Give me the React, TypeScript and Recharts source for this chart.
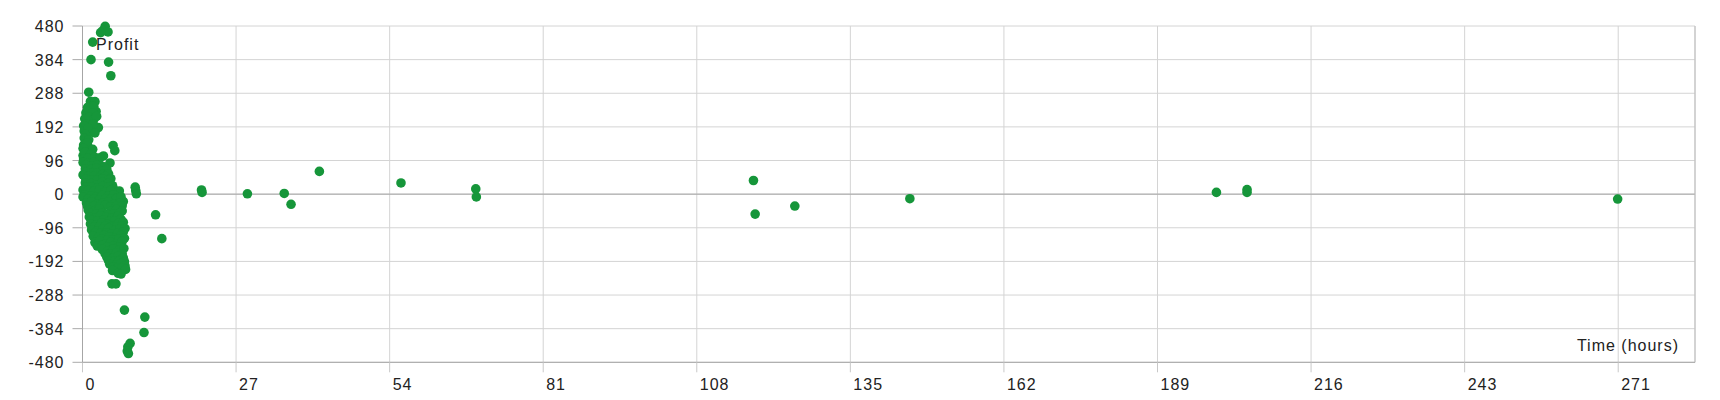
import { CartesianGrid, Label, ReferenceLine, Scatter, ScatterChart, XAxis, YAxis } from "recharts";

// [hours, profit] pairs
const earlyTrades: [number, number][] = [
  [4.0, 479], [3.6, 467], [4.5, 463], [3.2, 461], [1.8, 434], [1.5, 384], [4.6, 377], [5.0, 338],
  [1.1, 291], [1.4, 265], [2.2, 264], [1.6, 250], [0.6, 232], [1.3, 238], [2.4, 236],
  [0.9, 248], [2.0, 250], [1.8, 232], [0.9, 210],
  [0.4, 215], [1.2, 220], [2.0, 214], [2.5, 222], [0.7, 200], [1.5, 195], [2.8, 190],
  [0.2, 195], [1.9, 200], [0.3, 180], [1.6, 178],
  [1.0, 188], [2.2, 175], [0.5, 170], [0.3, 160], [1.1, 155], [0.2, 140], [1.0, 135],
  [0.8, 145], [0.1, 130], [0.1, 110],
  [1.8, 128], [0.4, 120], [1.4, 112], [0.2, 100], [0.9, 102], [2.2, 105], [5.4, 139],
  [5.7, 124], [3.7, 109], [3.1, 104], [4.85, 89],
  [0.1, 90], [1.0, 88], [2.0, 90], [3.0, 84],
  [0.6, 82], [1.6, 80], [2.6, 83], [3.8, 78],
  [0.5, 72], [1.5, 70], [2.5, 74], [3.5, 66], [4.3, 70],
  [0.6, 62], [1.6, 60], [2.6, 60], [3.6, 56], [4.6, 58],
  [0.1, 55], [1.0, 50], [2.0, 52], [3.0, 47], [4.0, 50], [5.0, 44],
  [0.6, 42], [1.6, 40], [2.6, 40], [3.6, 44], [4.6, 40],
  [0.5, 32], [1.5, 30], [2.5, 27], [3.5, 34], [4.5, 30], [5.3, 24],
  [0.6, 20], [1.6, 20], [2.6, 18], [3.6, 22], [4.6, 20], [5.5, 14],
  [0.1, 12], [1.0, 10], [2.0, 8], [3.0, 12], [4.0, 7], [5.0, 10], [6.5, 9], [6.3, -1],
  [0.3, -2], [1.5, -5], [2.5, -8], [3.5, -4], [4.5, -6], [5.5, -2], [7.2, -21],
  [0.1, -8], [1.0, -14], [2.0, -14], [3.0, -16], [4.0, -15], [5.0, -14], [6.0, -12], [6.8, -8],
  [0.7, -25], [1.6, -22], [2.6, -28], [3.6, -25], [4.6, -22], [5.6, -28], [6.6, -25],
  [0.9, -35], [2.0, -34], [3.0, -36], [4.0, -32], [5.0, -36], [6.0, -34], [7.0, -33],
  [1.0, -45], [2.0, -48], [3.0, -42], [5.0, -50], [6.0, -44], [7.0, -48],
  [1.4, -55], [2.5, -56], [3.5, -54], [4.5, -58], [5.5, -56], [6.5, -55],
  [1.2, -65], [2.2, -68], [3.2, -62], [4.2, -66], [5.2, -70], [6.2, -64],
  [1.6, -75], [2.7, -76], [3.7, -74], [4.7, -78], [5.7, -76], [6.8, -72],
  [1.4, -85], [2.4, -88], [3.4, -82], [4.4, -86], [5.4, -90], [6.4, -84], [7.2, -80],
  [2.0, -94], [3.0, -93], [4.0, -92], [5.0, -95], [6.0, -93], [7.0, -90],
  [1.6, -102], [2.6, -105], [3.6, -100], [4.6, -98], [5.6, -104], [6.6, -100], [7.5, -98],
  [2.2, -112], [3.2, -112], [4.2, -110], [5.2, -113], [6.2, -112], [7.2, -108],
  [1.9, -120], [2.8, -124], [3.8, -118], [4.8, -122], [5.8, -125], [6.8, -118],
  [3.4, -128], [4.4, -130], [5.4, -130], [6.4, -128], [7.4, -126],
  [2.2, -138], [3.0, -134], [4.0, -142], [5.0, -138], [6.0, -142], [7.0, -135],
  [2.6, -148], [3.5, -147], [4.5, -150], [5.5, -148], [6.5, -150],
  [3.5, -158], [4.5, -162], [5.5, -156], [6.5, -160], [7.3, -155],
  [4.0, -170], [5.0, -170], [6.0, -168], [7.0, -170],
  [4.3, -180], [5.3, -184], [6.3, -178], [7.2, -182],
  [4.6, -190], [5.6, -192], [6.5, -190], [7.4, -193],
  [4.8, -200], [5.8, -204], [6.8, -198], [7.5, -205],
  [5.4, -208], [6.2, -210], [7.0, -210],
  [5.3, -218], [6.3, -226], [7.6, -215], [6.8, -228],
  [5.2, -256], [5.9, -256],
  [7.4, -331], [11.0, -351], [10.85, -395],
  [8.4, -426], [8.0, -436], [7.9, -448], [8.1, -455],
];

const laterTrades: [number, number][] = [
  [9.3, 20], [9.4, 10], [9.5, 1], [12.9, -59], [14.0, -127],
  [21.0, 12], [21.1, 5], [29.1, 1], [35.6, 2], [36.8, -29], [41.8, 65], [56.2, 32],
  [69.4, 15], [69.5, -8], [118.4, 39], [118.7, -57], [125.7, -34], [146.0, -13],
  [200.1, 5], [205.5, 13], [205.5, 5], [270.9, -14],
];

const xTicks = [0, 27.1, 54.2, 81.3, 108.4, 135.5, 162.6, 189.7, 216.8, 243.9, 271];
const yTicks = [-480, -384, -288, -192, -96, 0, 96, 192, 288, 384, 480];
const xMax = 284.55;

const FONT = "'Liberation Sans', Arial, sans-serif";
const DOT = "#16963a";

const points = [...earlyTrades, ...laterTrades].map(([hours, profit]) => ({ hours, profit }));

function XTick({ x, y, payload }: any) {
  return (
    <text x={x + 3} y={y + 14} fill="#222" fontSize={16} fontFamily={FONT} style={{ letterSpacing: 1 }}>
      {Math.floor(payload.value)}
    </text>
  );
}

function YTick({ x, y, payload }: any) {
  return (
    <text x={x} y={y + 6} fill="#222" fontSize={16} fontFamily={FONT} textAnchor="end" style={{ letterSpacing: 1 }}>
      {payload.value}
    </text>
  );
}

function ProfitTitle({ viewBox }: any) {
  return (
    <text x={viewBox.x + viewBox.width + 13.5} y={viewBox.y + 24} fill="#222" fontSize={16} fontFamily={FONT} style={{ letterSpacing: 1 }}>
      Profit
    </text>
  );
}

function TimeTitle({ viewBox }: any) {
  return (
    <text x={viewBox.x + viewBox.width - 16} y={viewBox.y - 11} fill="#222" fontSize={16} fontFamily={FONT} textAnchor="end" style={{ letterSpacing: 1 }}>
      Time (hours)
    </text>
  );
}

export default function App() {
  return (
    <ScatterChart width={1712} height={392} margin={{ top: 18, right: 25, bottom: 7.7, left: 0 }}>
      <CartesianGrid stroke="#d4d4d4" />
      <XAxis
        type="number"
        dataKey="hours"
        domain={[0, xMax]}
        ticks={xTicks}
        height={30}
        tickSize={10}
        tickMargin={4}
        stroke="#a6a6a6"
        tickLine={{ stroke: "#c8c8c8" }}
        tick={<XTick />}
      >
        <Label content={<TimeTitle />} />
      </XAxis>
      <YAxis
        type="number"
        dataKey="profit"
        domain={[-480, 480]}
        ticks={yTicks}
        width={74.5}
        tickSize={10}
        tickMargin={8}
        stroke="#a6a6a6"
        tickLine={{ stroke: "#aaaaaa" }}
        tick={<YTick />}
      >
        <Label content={<ProfitTitle />} />
      </YAxis>
      <ReferenceLine y={0} stroke="#a6a6a6" />
      <ReferenceLine x={xMax} stroke="#bdbdbd" />
      <Scatter
        data={points}
        isAnimationActive={false}
        shape={(p: any) => <circle cx={p.cx} cy={p.cy} r={4.8} fill={DOT} />}
      />
    </ScatterChart>
  );
}
